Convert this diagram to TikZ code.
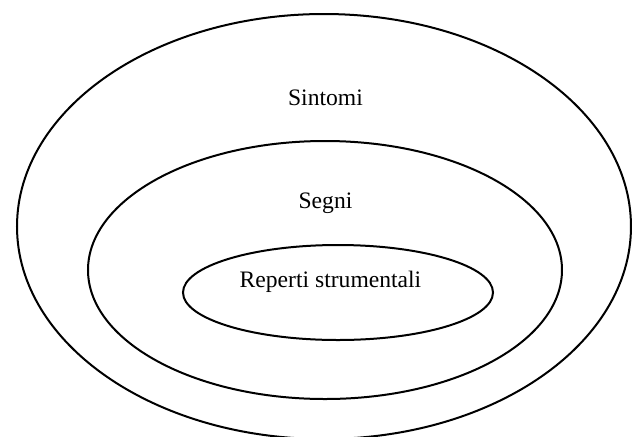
\documentclass[tikz,border=0pt]{standalone}
\usepackage{fontspec}
\setmainfont{Liberation Serif}
\begin{document}
\begin{tikzpicture}[x=0.5pt,y=-0.5pt]
        \tikzset{ring/.style={line width=1pt}, label/.style={anchor=base,font=\fontsize{11.8}{14}\selectfont}};
        \clip (0,0) rectangle (634,436);
        \draw[ring] (324,226.5) ellipse[x radius=307,y radius=212.5];
        \draw[ring] (325,270) ellipse[x radius=237,y radius=129];
        \draw[ring] (338,292.5) ellipse[x radius=155,y radius=47.5];
        \node[label] (sintomi) at (325.5,105) {Sintomi};
        \node[label] (segni) at (325.5,208) {Segni};
        \node[label] (reperti) at (330.5,287) {Reperti strumentali};
    \end{tikzpicture}
\end{document}
